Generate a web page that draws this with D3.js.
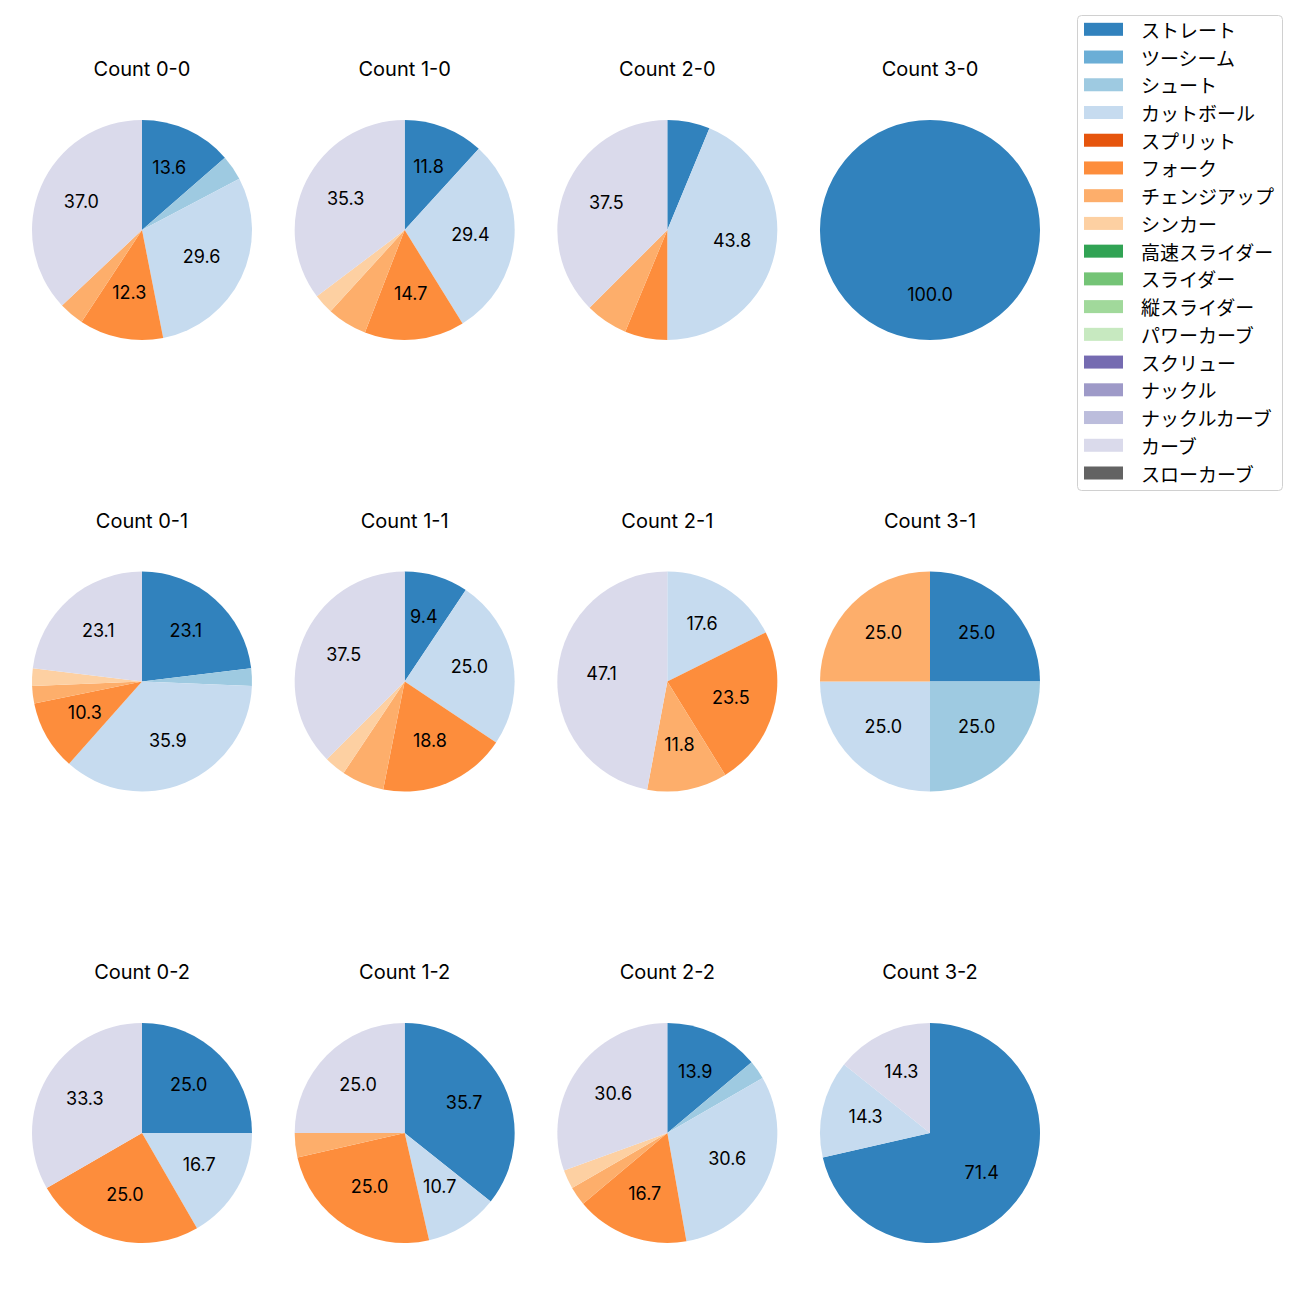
<!DOCTYPE html>
<html><head><meta charset="utf-8">
<script src="https://cdn.jsdelivr.net/npm/d3@7"></script>
<style>body{margin:0;background:#fff;} text{font-family:"Noto Sans CJK JP","Noto Sans",sans-serif;} .lat{font-family:Inter,"Noto Sans CJK JP",sans-serif;}</style>
</head><body>
<svg id="c" width="1300" height="1300"></svg>
<script>
const pitchTypes = ["ストレート","ツーシーム","シュート","カットボール","スプリット","フォーク","チェンジアップ","シンカー","高速スライダー","スライダー","縦スライダー","パワーカーブ","スクリュー","ナックル","ナックルカーブ","カーブ","スローカーブ"];
const colors = ["#3182bd","#6baed6","#9ecae1","#c6dbef","#e6550d","#fd8d3c","#fdae6b","#fdd0a2","#31a354","#74c476","#a1d99b","#c7e9c0","#756bb1","#9e9ac8","#bcbddc","#dadaeb","#636363"];
const titles = ["Count 0-0","Count 1-0","Count 2-0","Count 3-0","Count 0-1","Count 1-1","Count 2-1","Count 3-1","Count 0-2","Count 1-2","Count 2-2","Count 3-2"];
// pitch counts per type (order of pitchTypes)
const c00 = [11,0,3,24,0,10,3,0,0,0,0,0,0,0,0,30,0];
const c10 = [4,0,0,10,0,5,2,1,0,0,0,0,0,0,0,12,0];
const c20 = [1,0,0,7,0,1,1,0,0,0,0,0,0,0,0,6,0];
const c30 = [1,0,0,0,0,0,0,0,0,0,0,0,0,0,0,0,0];
const c01 = [9,0,1,14,0,4,1,1,0,0,0,0,0,0,0,9,0];
const c11 = [3,0,0,8,0,6,2,1,0,0,0,0,0,0,0,12,0];
const c21 = [0,0,0,3,0,4,2,0,0,0,0,0,0,0,0,8,0];
const c31 = [1,0,1,1,0,0,1,0,0,0,0,0,0,0,0,0,0];
const c02 = [3,0,0,2,0,3,0,0,0,0,0,0,0,0,0,4,0];
const c12 = [10,0,0,3,0,7,1,0,0,0,0,0,0,0,0,7,0];
const c22 = [5,0,1,11,0,6,1,1,0,0,0,0,0,0,0,11,0];
const c32 = [5,0,0,1,0,0,0,0,0,0,0,0,0,0,0,1,0];
const series = [c00,c10,c20,c30,c01,c11,c21,c31,c02,c12,c22,c32];

const svg = d3.select("#c");
const colX = d3.scaleLinear().domain([0,3]).range([142,930]);
const rowY = d3.scaleLinear().domain([0,2]).range([230,1133]);
const R = 110;
const color = d3.scaleOrdinal().domain(pitchTypes).range(colors);
const pie = d3.pie().sort(null).value(d=>d.v);
const arc = d3.arc().innerRadius(0).outerRadius(R);
const labelArc = d3.arc().innerRadius(R*0.6).outerRadius(R*0.6);

series.forEach((vals,i)=>{
  const cx = colX(i%4), cy = rowY(Math.floor(i/4));
  const g = svg.append("g").attr("transform",`translate(${cx},${cy})`);
  const total = d3.sum(vals);
  const data = pitchTypes.map((p,k)=>({p, v: vals[k]})).filter(d=>d.v>0);
  const arcs = pie(data);
  g.selectAll("path").data(arcs).join("path").attr("d",arc).attr("fill",d=>color(d.data.p));
  g.selectAll("text.l").data(arcs.filter(d=>d.data.v/total*100>=8)).join("text").attr("class","l lat")
    .attr("transform",d=>{const c=labelArc.centroid(d);return `translate(${c[0]},${c[1]-2})`;})
    .attr("text-anchor","middle").attr("dominant-baseline","central")
    .attr("font-size","18px").attr("fill","#000")
    .text(d=>(d.data.v/total*100).toFixed(1));
  g.append("text").attr("class","lat").attr("x",0).attr("y",-161).attr("text-anchor","middle").attr("dominant-baseline","central")
    .attr("font-size","20px").attr("fill","#000").text(titles[i]);
});

// legend
const lg = svg.append("g");
lg.append("rect").attr("x",1077.5).attr("y",15.5).attr("width",205).attr("height",475).attr("rx",4)
  .attr("fill","#fff").attr("stroke","#d0d0d0").attr("stroke-width",1);
const ly = d3.scaleLinear().domain([0,16]).range([29.3,473]);
pitchTypes.forEach((p,k)=>{
  lg.append("rect").attr("x",1084).attr("y",ly(k)-6.5).attr("width",39).attr("height",13).attr("fill",color(p));
  lg.append("text").attr("x",1141).attr("y",ly(k)).attr("dominant-baseline","central")
    .attr("font-size","19px").attr("fill","#000").text(p);
});
</script>
</body></html>
